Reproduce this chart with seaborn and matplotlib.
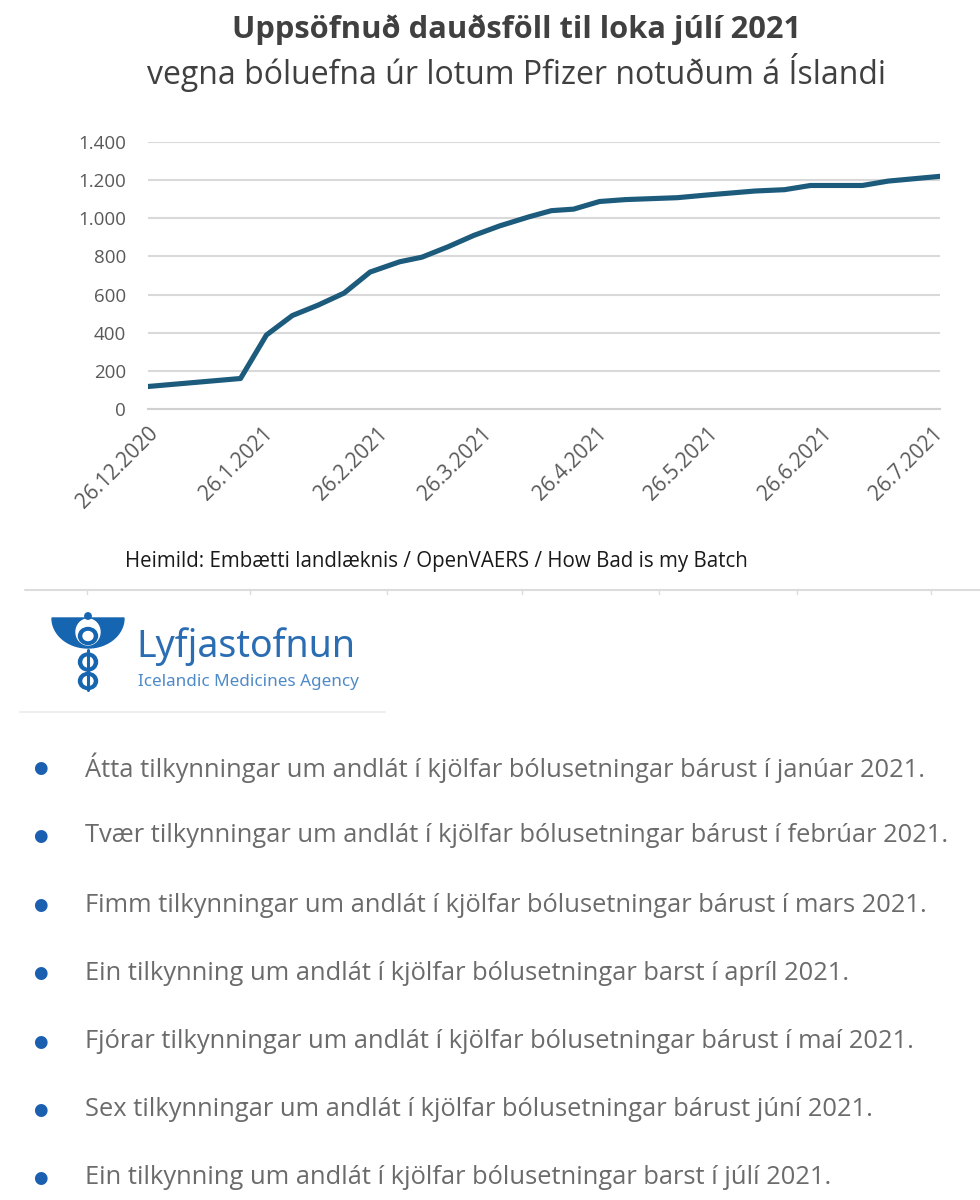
import numpy as np
import pandas as pd
import matplotlib.pyplot as plt
import matplotlib.dates as mdates
import matplotlib.ticker as mticker
from matplotlib.patches import Ellipse, Circle, Polygon
import seaborn as sns

# cumulative deaths
dates = ["2020-12-26", "2021-01-20", "2021-01-27", "2021-02-03", "2021-02-10",
         "2021-02-17", "2021-02-24", "2021-03-04", "2021-03-10", "2021-03-17",
         "2021-03-24", "2021-03-31", "2021-04-08", "2021-04-14", "2021-04-20",
         "2021-04-27", "2021-05-04", "2021-05-18", "2021-05-26", "2021-06-08",
         "2021-06-16", "2021-06-23", "2021-07-07", "2021-07-14", "2021-07-28"]
deaths = [118, 160, 388, 490, 545, 608, 718, 772, 796, 850,
          910, 960, 1008, 1040, 1048, 1088, 1098, 1108, 1122, 1143,
          1150, 1172, 1172, 1195, 1220]

tick_dates = ["2020-12-26", "2021-01-26", "2021-02-26", "2021-03-26",
              "2021-04-26", "2021-05-26", "2021-06-26", "2021-07-26"]

title = "Uppsöfnuð dauðsföll til loka júlí 2021"
subtitle = "vegna bóluefna úr lotum Pfizer notuðum á Íslandi"
source = "Heimild: Embætti landlæknis / OpenVAERS / How Bad is my Batch"
bullets = [
    "Átta tilkynningar um andlát í kjölfar bólusetningar bárust í janúar 2021.",
    "Tvær tilkynningar um andlát í kjölfar bólusetningar bárust í febrúar 2021.",
    "Fimm tilkynningar um andlát í kjölfar bólusetningar bárust í mars 2021.",
    "Ein tilkynning um andlát í kjölfar bólusetningar barst í apríl 2021.",
    "Fjórar tilkynningar um andlát í kjölfar bólusetningar bárust í maí 2021.",
    "Sex tilkynningar um andlát í kjölfar bólusetningar bárust júní 2021.",
    "Ein tilkynning um andlát í kjölfar bólusetningar barst í júlí 2021.",
]

df = pd.DataFrame({"date": pd.to_datetime(dates), "deaths": deaths})

sns.set_style("white")
plt.rcParams['font.family'] = ['Open Sans', 'DejaVu Sans']

W, H = 980, 1200
fig = plt.figure(figsize=(9.8, 12), dpi=100)

def fx(px):
    return px / W

def fy(py):
    return 1 - py / H

ax = fig.add_axes([fx(148), fy(409), fx(940) - fx(148), fy(142) - fy(409)])
sns.lineplot(data=df, x="date", y="deaths", ax=ax, color="#1d5b7c", linewidth=3.7,
             solid_capstyle="round")
ax.set_ylim(0, 1400)
ax.set_xlim(df["date"].min(), df["date"].max())
ax.set_yticks(range(0, 1401, 200))
ax.yaxis.set_major_formatter(mticker.FuncFormatter(lambda v, p: f"{int(v):,}".replace(",", ".")))
ax.set_xticks(pd.to_datetime(tick_dates))
ax.xaxis.set_major_formatter(mticker.FuncFormatter(
    lambda v, p: f"{mdates.num2date(v).day}.{mdates.num2date(v).month}.{mdates.num2date(v).year}"))
ax.grid(axis="y", color="#d9d9d9", linewidth=1.5)
ax.set_axisbelow(True)
for s in ["top", "right", "left"]:
    ax.spines[s].set_visible(False)
ax.spines["bottom"].set_color("#d0d0d0")
ax.spines["bottom"].set_linewidth(1.5)
ax.tick_params(axis="y", length=0, labelsize=13.5, labelcolor="#595959", pad=16)
ax.tick_params(axis="x", length=6, width=1.2, color="#d0d0d0", labelsize=15,
               labelcolor="#595959", labelrotation=45, pad=4)
for lab in ax.get_xticklabels():
    lab.set_ha("right")
    lab.set_rotation_mode("anchor")
ax.set_xlabel("")
ax.set_ylabel("")

fig.text(0.5275, fy(30), title, ha="center", va="center", fontsize=22.2,
         fontweight="bold", color="#404040")
fig.text(0.527, fy(72), subtitle, ha="center", va="center", fontsize=23,
         color="#404040")
fig.text(fx(125), fy(561), source, ha="left", va="center", fontsize=14.8, color="#1a1a1a")

# separator lines
fig.add_artist(plt.Line2D([fx(25), fx(980)], [fy(590), fy(590)], color="#dcdcdc", lw=1.5))
for tx in [87, 250, 387, 522, 659, 797, 931]:
    fig.add_artist(plt.Line2D([fx(tx), fx(tx)], [fy(590), fy(594)], color="#dcdcdc", lw=1))
fig.add_artist(plt.Line2D([fx(20), fx(385)], [fy(712), fy(712)], color="#eeeeee", lw=1.5))

# logo
blue = "#1565b0"
lg = fig.add_axes([fx(45), fy(700), fx(130) - fx(45), fy(605) - fy(700)])
lg.set_xlim(45, 130)
lg.set_ylim(700, 605)
lg.axis("off")
t = np.linspace(0, np.pi, 60)
wing = np.column_stack([88 + 36 * np.cos(t), 618 + 30 * np.sin(t)])
lg.add_patch(Polygon(wing, closed=True, color=blue))
lg.add_patch(Ellipse((88, 632), 24, 26, color="white"))
lg.add_patch(Circle((88, 616), 3.2, color=blue))
for cy, ry in [(636, 17), (662, 18), (681, 17)]:
    lg.add_patch(Ellipse((88, cy), 19, ry, color=blue))
    lg.add_patch(Ellipse((88, cy), 10, ry - 8, color="white"))
lg.plot([88, 88], [650, 690], color=blue, lw=2.2)

fig.text(fx(136), fy(647), "Lyfjastofnun", ha="left", va="center", fontsize=27,
         color="#2a6db3", family=["Noto Sans", "DejaVu Sans"])
fig.text(fx(138), fy(682), "Icelandic Medicines Agency", ha="left", va="center",
         fontsize=12.3, fontweight="bold", color="#4d8ac8", family=["Noto Sans", "DejaVu Sans"])

# bullet list
ys = [768, 836, 905, 973, 1042, 1110, 1178]
for yy, txt in zip(ys, bullets):
    fig.text(fx(40), fy(yy), "●", ha="center", va="center", fontsize=12, color="#1a5fb0",
             family=["DejaVu Sans"])
    fig.text(fx(85), fy(yy), txt, ha="left", va="center", fontsize=18.4,
             color="#6b6b6b")

fig.savefig("out.png", dpi=100)
